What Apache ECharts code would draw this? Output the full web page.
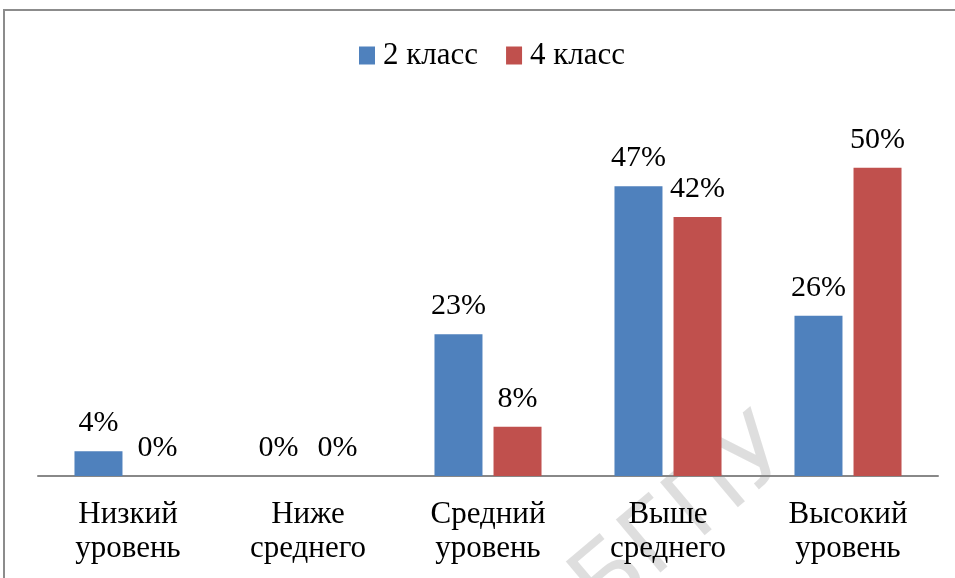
<!DOCTYPE html>
<html>
<head>
    <meta charset="UTF-8">
    <title>Уровни</title>
    <script type="text/javascript" src="https://cdn.jsdelivr.net/npm/echarts@6/dist/echarts.min.js"></script>
</head>
<body style="margin:0;background:#fff;">
<div id="main" style="width:955px;height:578px;"></div>
<script>
    var categories = ['Низкий\nуровень', 'Ниже\nсреднего', 'Средний\nуровень', 'Выше\nсреднего', 'Высокий\nуровень'];
    var grade2 = [4, 0, 23, 47, 26];
    var grade4 = [0, 0, 8, 42, 50];

    var font = '"Liberation Serif", "Times New Roman", serif';

    var chart = echarts.init(document.getElementById('main'), null, {renderer: 'canvas'});

    var lbl = {
        show: true,
        position: 'top',
        distance: 13,
        formatter: '{c}%',
        fontFamily: font,
        fontSize: 30,
        color: '#000'
    };

    chart.setOption({
        animation: false,
        color: ['#4f81bd', '#c0504d'],
        graphic: [
            {type: 'rect', z: 0, shape: {x: 4, y: 10, width: 960, height: 620}, style: {fill: 'none', stroke: '#8c8c8c', lineWidth: 2}, silent: true},
            // faint scan watermark, sits behind the bars
            {type: 'text', z: 0, x: 618, y: 638, rotation: 0.7,
             style: {text: 'БГПУ', fontFamily: '"DejaVu Sans"', fontSize: 95, fill: 'rgba(0,0,0,0.13)', align: 'left', verticalAlign: 'bottom'}, silent: true}
        ],
        legend: {
            top: 35,
            left: 354,
            icon: 'rect',
            itemWidth: 16,
            itemHeight: 18,
            itemGap: 28,
            textStyle: {fontFamily: font, fontSize: 31, color: '#000', padding: [0, 0, 0, 3]},
            data: ['2 класс', '4 класс']
        },
        grid: {left: 38, right: 17, top: 106, bottom: 102, containLabel: false},
        xAxis: {
            type: 'category',
            data: categories,
            axisLine: {lineStyle: {color: '#888', width: 2}},
            axisTick: {show: false},
            axisLabel: {interval: 0, margin: 22, fontFamily: font, fontSize: 31, lineHeight: 34, color: '#000'}
        },
        yAxis: {
            type: 'value',
            min: 0,
            max: 60,
            show: false,
            splitLine: {show: false}
        },
        series: [
            {name: '2 класс', type: 'bar', z: 2, data: grade2, barWidth: 48, barGap: '23%', label: lbl},
            {name: '4 класс', type: 'bar', z: 2, data: grade4, barWidth: 48, label: lbl}
        ]
    });
</script>
</body>
</html>
